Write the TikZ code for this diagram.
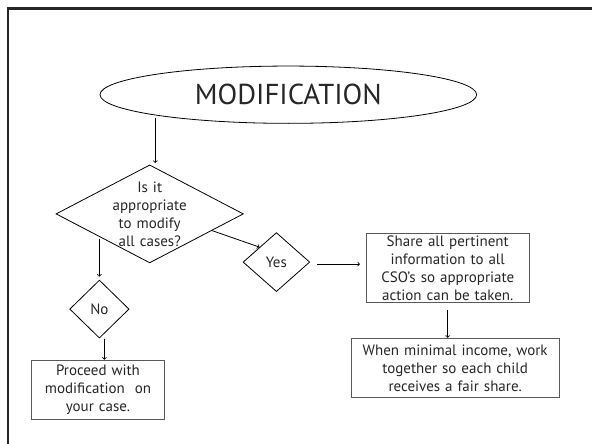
\documentclass[tikz,border=0pt]{standalone}
\usepackage{fontspec}
\setmainfont{PT Sans}
\usetikzlibrary{shapes,arrows}
\tikzstyle{decision} = [diamond, draw, text centered, inner sep=0pt]
\tikzstyle{block} = [rectangle, draw=black!65, text centered, inner sep=0pt]
\tikzstyle{line} = [draw, ->]
\tikzstyle{heading} = [ellipse, draw, inner sep=0pt]

\begin{document}
\begin{tikzpicture}[x=1pt, y=-1pt, line width=0.8pt, text=black!85,
    font=\fontsize{15}{18}\selectfont]
\useasboundingbox (0,0) rectangle (592,444);
\draw[line width=2.6pt, black!85] (600,8.3) -- (8,8.3) -- (8,450);

    % Place nodes
\node[heading, minimum width=376.6pt, minimum height=57.3pt] (title) at (288.3,94.7)
{\fontsize{28.8}{34}\selectfont MODIFICATION};
\node[decision, below of=title, node distance=119.2pt, xshift=-138.6pt,
  minimum width=187.4pt, minimum height=98pt, inner sep=-25pt, text width=90pt] (q)
{Is it\\ appropriate\\ to modify\\ all cases?};
\node[decision, below of=q, node distance=95.2pt, xshift=-50.3pt,
  minimum width=59.4pt, minimum height=58pt] (no) {No};
\node[block, below of=no, node distance=80.7pt, xshift=-1.4pt,
  text width=133.3pt, minimum height=59.3pt] (proceed)
{Proceed with\\ modification\ \ on\\ your case.};
\node[decision, below of=q, node distance=48.2pt, xshift=126.7pt,
  minimum width=66.7pt, minimum height=59pt] (yes) {Yes};
\node[block, right of=yes, node distance=171.3pt, yshift=-6.1pt,
  text width=162.6pt, minimum height=68.7pt] (share)
{Share all pertinent\\ information to all\\ CSO’s so appropriate\\ action can be taken.};
\node[block, below of=share, node distance=99.7pt, xshift=7.5pt,
  text width=207.6pt, minimum height=59.4pt] (when)
{When minimal income, work\\ together so each child\\ receives a fair share.};

    % Draw edges
\path [line] ([xshift=5.5pt,yshift=6pt]q.north |- title.south) -- ([xshift=5.5pt,yshift=1.5pt]q.north);
\path [line] (no.north |- q.south west) -- ([yshift=3pt]no.north);
\path [line] ([xshift=5pt]no.south) -- ([xshift=5pt]no.south |- proceed.north);
\path [line] (q.-15) -- (yes.north west);
\path [line] ([xshift=7pt,yshift=-2pt]yes.east) -- ([xshift=-6pt,yshift=-2pt]yes.east -| share.west);
\path [line] ([yshift=-7pt]share.south) -- (share.south |- when.north);

\end{tikzpicture}
\end{document}
